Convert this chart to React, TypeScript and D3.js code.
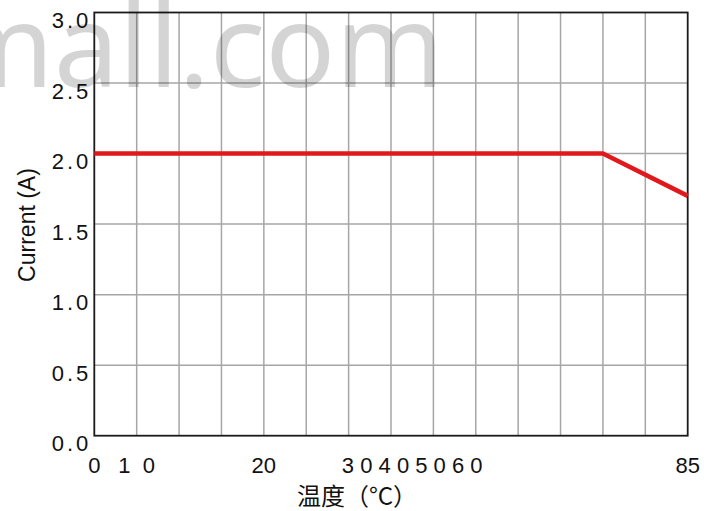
import { useEffect, useRef } from 'react'
import * as d3 from 'd3'

// curve: current vs temperature (x in grid units of 5, last gridline labelled 85)
const temps = [0, 60, 70]
const currents = [2.0, 2.0, 1.7]

const yTicks = [0, 0.5, 1.0, 1.5, 2.0, 2.5, 3.0]
const xTickAt = [0, 5, 20, 37.5, 70]
const xTickLabels = ['0', '1  0', '20', '3 0 4 0 5 0 6 0', '85']

const xTitle = '温度（°C）'
const yTitle = 'Current (A)'
const watermark = 'mall.com'

export default function App() {
  const svgRef = useRef<SVGSVGElement>(null)

  useEffect(() => {
    if (!svgRef.current) return
    const width = 711
    const height = 511
    const margin = { top: 12.5, right: 23.3, bottom: 75.3, left: 94.3 }

    const svg = d3.select(svgRef.current)
    svg.selectAll('*').remove()

    const x = d3.scaleLinear().domain([0, 70]).range([margin.left, width - margin.right])
    const y = d3.scaleLinear().domain([0, 3]).range([height - margin.bottom, margin.top])

    const grid = svg.append('g').attr('stroke', '#a6a6a6').attr('stroke-width', 1.5)
    grid.selectAll('line.v').data(d3.range(5, 70, 5)).join('line')
      .attr('x1', d => x(d)).attr('x2', d => x(d))
      .attr('y1', y(0)).attr('y2', y(3))
    grid.selectAll('line.h').data(yTicks.slice(1, -1)).join('line')
      .attr('x1', x(0)).attr('x2', x(70))
      .attr('y1', d => y(d)).attr('y2', d => y(d))

    // border
    svg.append('rect')
      .attr('x', x(0)).attr('y', y(3))
      .attr('width', x(70) - x(0)).attr('height', y(0) - y(3))
      .attr('fill', 'none').attr('stroke', '#1a1a1a').attr('stroke-width', 1.8)

    // curve
    const line = d3.line<number>().x((_, i) => x(temps[i])).y(d => y(d))
    svg.append('path').datum(currents).attr('d', line)
      .attr('fill', 'none').attr('stroke', '#e0191c').attr('stroke-width', 4.5)
      .attr('stroke-linejoin', 'round')

    // y tick labels
    svg.append('g').selectAll('text').data(yTicks).join('text')
      .attr('x', margin.left - 3).attr('y', d => y(d) + 15.5)
      .attr('text-anchor', 'end')
      .attr('font-family', 'Liberation Sans, Arial, sans-serif')
      .attr('font-size', 22).attr('letter-spacing', 3).attr('fill', '#111')
      .text(d => d.toFixed(1))

    // x tick labels
    svg.append('g').selectAll('text').data(xTickLabels).join('text')
      .attr('x', (_, i) => x(xTickAt[i])).attr('y', 473)
      .attr('text-anchor', 'middle')
      .attr('font-family', 'Liberation Sans, Arial, sans-serif')
      .attr('font-size', 22).attr('fill', '#111')
      .style('white-space', 'pre')
      .text(d => d)

    svg.append('text')
      .attr('x', 357).attr('y', 505)
      .attr('text-anchor', 'middle')
      .attr('font-family', 'Noto Sans CJK SC, sans-serif')
      .attr('font-size', 24).attr('fill', '#111')
      .text(xTitle)

    svg.append('text')
      .attr('transform', `translate(35,225) rotate(-90)`)
      .attr('text-anchor', 'middle')
      .attr('font-family', 'Liberation Sans, Arial, sans-serif')
      .attr('font-size', 23).attr('fill', '#111')
      .text(yTitle)

    svg.append('text')
      .attr('x', 444).attr('y', 87)
      .attr('text-anchor', 'end')
      .attr('font-family', 'Noto Sans, sans-serif')
      .attr('font-size', 116).attr('fill', '#000').attr('fill-opacity', 0.17)
      .text(watermark)
  }, [])

  return (
    <svg ref={svgRef} width={711} height={511}
      style={{ position: 'absolute', left: 0, top: 0, background: '#fff' }} />
  )
}
